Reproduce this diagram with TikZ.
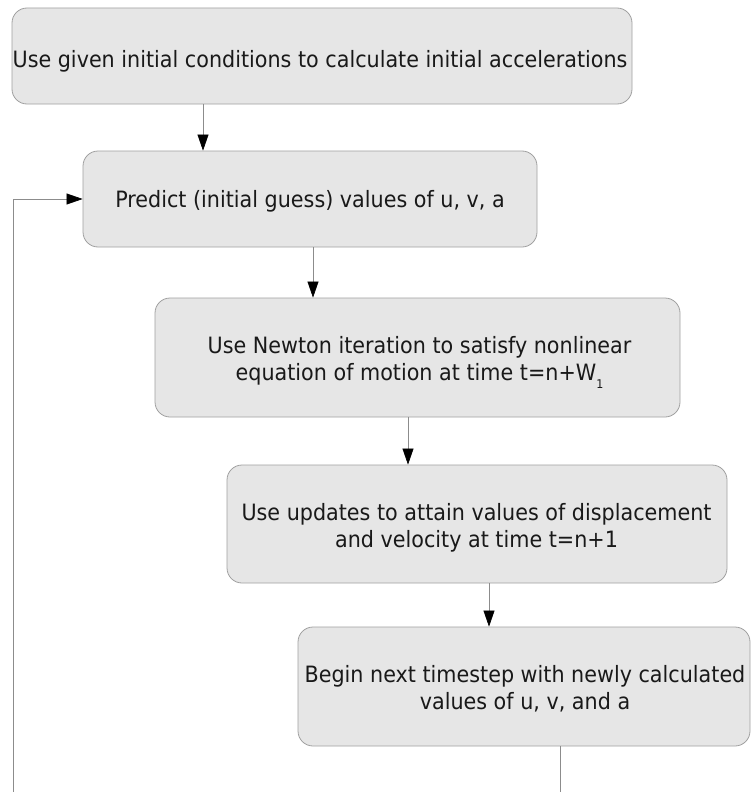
\documentclass[tikz,border=0pt]{standalone}
\usepackage{fontspec}
\setmainfont{DejaVu Sans}[FakeStretch=0.92]
\usetikzlibrary{arrows.meta}
\definecolor{boxfill}{HTML}{E6E6E6}
\definecolor{boxline}{HTML}{A0A0A0}
\definecolor{connline}{HTML}{8C8C8C}
\tikzset{
  flowbox/.style={draw=boxline, fill=boxfill, line width=0.8pt, rounded corners=15pt, inner sep=0pt},
  boxtext/.style={align=center, font=\fontsize{22.5}{27}\selectfont, text=black!90, inner sep=0pt},
  conn/.style={draw=connline, line width=0.6pt},
  arr/.style={conn, -{Triangle[length=16pt,width=11pt,fill=black,color=black]}}
}
\begin{document}
\begin{tikzpicture}[x=1pt,y=-1pt]
\useasboundingbox (0,0) rectangle (752,792);
\node[flowbox, minimum width=620pt, minimum height=96pt] (b1) at (322,56) {};
\node[flowbox, minimum width=454pt, minimum height=96pt] (b2) at (310,199) {};
\node[flowbox, minimum width=525pt, minimum height=119pt] (b3) at (417.5,357.5) {};
\node[flowbox, minimum width=500pt, minimum height=118pt] (b4) at (477,524) {};
\node[flowbox, minimum width=452pt, minimum height=119pt] (b5) at (524,686.5) {};
\node[boxtext, anchor=base] (t1) at (320,67) {Use given initial conditions to calculate initial accelerations};
\node[boxtext, anchor=base] (t2) at (310,207) {Predict (initial guess) values of u, v, a};
\node[boxtext] (t3) at (419.5,362) {Use Newton iteration to satisfy nonlinear\\equation of motion at time t=n+W\raisebox{-8pt}{\fontsize{12}{12}\selectfont 1}};
\node[boxtext] (t4) at (476.5,527.5) {Use updates to attain values of displacement\\and velocity at time t=n+1};
\node[boxtext] (t5) at (525,689) {Begin next timestep with newly calculated\\values of u, v, and a};
\coordinate (a1) at (203,0);
\coordinate (a2) at (313,0);
\coordinate (a3) at (408,0);
\coordinate (a4) at (489,0);
\draw[arr] (b1.south -| a1) -- (b2.north -| a1);
\draw[arr] (b2.south -| a2) -- (b3.north -| a2);
\draw[arr] (b3.south -| a3) -- (b4.north -| a3);
\draw[arr] (b4.south -| a4) -- (b5.north -| a4);
\coordinate (loopend) at (560,792);
\coordinate (loopstart) at (13,792);
\draw[conn] (b5.south -| loopend) -- (loopend);
\draw[arr] (loopstart) |- (b2.west);
\end{tikzpicture}
\end{document}
